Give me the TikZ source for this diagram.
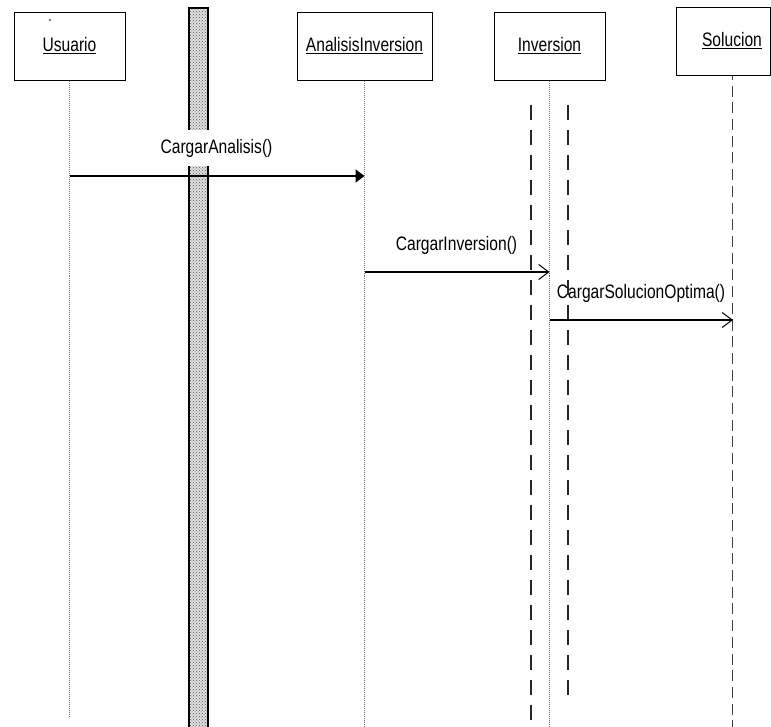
\documentclass[tikz,border=0pt]{standalone}
\usepackage{fontspec}
\setmainfont{Liberation Sans}[FakeStretch=0.8]
\usetikzlibrary{arrows.meta,patterns}

\tikzset{
  actor/.style={draw=black, line width=1pt, fill=white, minimum height=68pt, inner sep=0pt},
  actortext/.style={inner sep=0pt, font=\fontsize{19.5}{22}\selectfont},
  msgtext/.style={inner sep=0pt, font=\fontsize{19.5}{22}\selectfont},
  lifeline/.style={draw=black!55, line width=0.9pt, dash pattern=on 1pt off 1pt},
  sollife/.style={draw=black!75, line width=1.2pt, dash pattern=on 11pt off 5.7pt, dash phase=7pt},
  activation/.style={draw=black!85, line width=1.6pt, dash pattern=on 15pt off 10pt},
  callfilled/.style={draw=black, line width=1.6pt, -{Triangle[length=9pt,width=13pt]}},
  callopen/.style={draw=black, line width=1.1pt, -{Straight Barb[length=10pt,width=15pt,line width=1pt]}},
}

\begin{document}
\begin{tikzpicture}[x=1pt,y=-1pt]
\useasboundingbox (0,0) rectangle (771,727);

% hatched bar
\fill[black!12] (189,8) rectangle (208,729);
\fill[pattern=crosshatch dots, pattern color=black!65] (189,8) rectangle (208,729);
\draw[line width=1.6pt] (189,729) -- (189,8) -- (208,8) -- (208,729);

% participants
\node[actor, minimum width=111pt] (usr) at (69.5,47) {};
\node[actortext] (usrtxt) at (69.5,46) {\underline{Usuario}};
\fill (50,20) circle (0.8pt);
\node[actor, minimum width=135pt] (ana) at (364.5,47) {};
\node[actortext] (anatxt) at (364.5,46) {\underline{AnalisisInversion}};
\node[actor, minimum width=111pt] (inv) at (549.5,47) {};
\node[actortext] (invtxt) at (549.5,46) {\underline{Inversion}};
\node[actor, minimum width=94pt] (sol) at (723,42) {};
\node[actortext] (soltxt) at (732,41) {\underline{Solucion}};

% lifeline ends
\coordinate (usrEnd) at (69.5,717);
\coordinate (anaEnd) at (364.5,729);
\coordinate (invEnd) at (549.5,729);
\coordinate (solEnd) at (732.5,729);

\draw[lifeline] (usr.south) -- (usrEnd);
\draw[lifeline] (ana.south) -- (anaEnd);
\draw[lifeline] (inv.south) -- (invEnd);
\coordinate (solTop) at (732.5,76);
\draw[sollife] (solTop) -- (solEnd);

% dashed activation rails of Inversion
\coordinate (railLa) at (531,105);
\coordinate (railLb) at (531,720);
\coordinate (railRa) at (568,105);
\coordinate (railRb) at (568,695);
\draw[activation] (railLa) -- (railLb);
\draw[activation] (railRa) -- (railRb);

% messages
\node[msgtext, fill=white, inner ysep=9pt, inner xsep=0pt] (m1txt) at (216.5,148) {CargarAnalisis()};
\coordinate (m1s) at (69.5,176);
\coordinate (m1e) at (364.5,176);
\draw[callfilled] (m1s) -- (m1e);

\coordinate (m2s) at (364.5,272);
\coordinate (m2e) at (549.5,272);
\draw[callopen] (m2s) -- (m2e);
\node[msgtext] (m2txt) at (456.5,245) {CargarInversion()};

\coordinate (m3s) at (549.5,320);
\coordinate (m3e) at (733,320);
\draw[callopen] (m3s) -- (m3e);
\node[msgtext] (m3txt) at (641,293) {CargarSolucionOptima()};
\end{tikzpicture}
\end{document}
